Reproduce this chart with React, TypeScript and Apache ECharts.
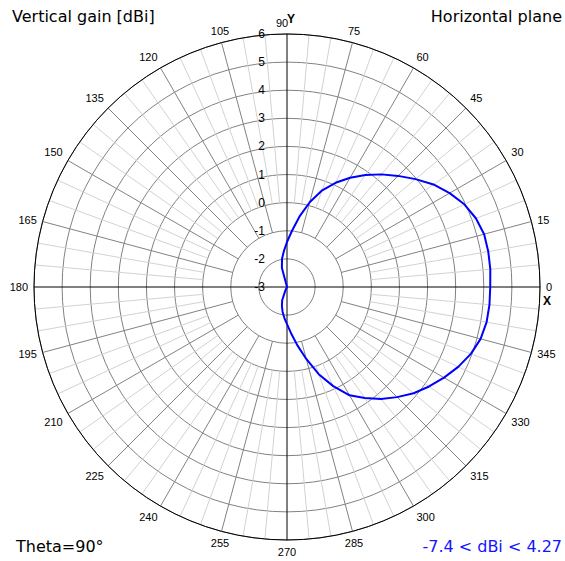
import React, { useEffect, useRef } from "react";
import * as echarts from "echarts";

// Azimuth angles (degrees) and vertical gain (dBi)
const angles = [
  0, 5, 10, 15, 20, 25, 30, 35, 40, 45, 50, 55, 60, 65, 70, 75, 80, 85, 90,
  95, 100, 105, 110, 120, 135, 150, 165, 180, 195, 210, 225, 240, 245, 250,
  255, 260, 265, 270, 275, 280, 285, 290, 295, 300, 305, 310, 315, 320, 325,
  330, 335, 340, 345, 350, 355, 360,
];
const gains = [
  4.23, 4.26, 4.27, 4.26, 4.15, 3.96, 3.68, 3.36, 2.97, 2.59, 2.23, 1.86,
  1.49, 1.09, 0.66, 0.12, -0.46, -1.0, -1.4, -1.72, -1.98, -2.3, -3.4, -4.3,
  -5.6, -6.6, -7.2, -7.4, -7.2, -6.6, -5.6, -3.9, -2.85, -2.5, -2.3, -2.1,
  -1.9, -1.68, -1.35, -0.9, -0.35, 0.3, 0.89, 1.45, 1.82, 2.2, 2.54, 2.88,
  3.17, 3.45, 3.72, 3.96, 4.13, 4.21, 4.23, 4.23,
];
const radiusMin = -3;
const radiusMax = 6;
const angleTicks = [0, 15, 30, 45, 60, 75, 90, 105, 120, 135, 150, 165, 180, 195, 210, 225, 240, 255, 270, 285, 300, 315, 330, 345];

const titleLeft = "Vertical gain [dBi]";
const titleRight = "Horizontal plane";
const footLeft = "Theta=90°";
const footRight = "-7.4 < dBi < 4.27";

const FONT = "'Liberation Sans', Arial, sans-serif";
const TITLE_FONT = "'DejaVu Sans', Verdana, sans-serif";

export default function App() {
  const ref = useRef<HTMLDivElement>(null);
  useEffect(() => {
    if (!ref.current) return;
    const chart = echarts.init(ref.current, null, { renderer: "svg" });
    const center = [287, 287];
    const R = 253;
    const gray = "#828282";
    const light = "#d2d2d2";
    const hiddenRadius = {
      min: radiusMin,
      max: radiusMax,
      interval: 1,
      show: false,
    };
    const data = angles.map((a, i) => [Math.max(gains[i], radiusMin), a]);
    chart.setOption({
      animation: false,
      backgroundColor: "#fff",
      polar: [
        { center, radius: [84, R] },
        { center, radius: [56, R] },
        { center, radius: R },
        { center, radius: R },
      ],
      angleAxis: [
        {
          polarIndex: 0,
          type: "value",
          min: 0,
          max: 360,
          interval: 5,
          startAngle: 0,
          clockwise: false,
          axisLine: { show: false },
          axisTick: { show: false },
          axisLabel: { show: false },
          splitLine: {
            show: true,
            lineStyle: { color: ["transparent", light, light], width: 1 },
          },
        },
        {
          polarIndex: 1,
          type: "value",
          min: 0,
          max: 360,
          interval: 15,
          startAngle: 0,
          clockwise: false,
          axisLine: { show: false },
          axisTick: { show: false },
          axisLabel: { show: false },
          splitLine: {
            show: true,
            lineStyle: {
              color: ["transparent", gray, gray, gray, gray, gray],
              width: 1,
            },
          },
        },
        {
          polarIndex: 2,
          type: "value",
          min: 0,
          max: 360,
          interval: 15,
          startAngle: 0,
          clockwise: false,
          axisLine: { show: true, lineStyle: { color: "#000", width: 1 } },
          axisTick: { show: false },
          axisLabel: {
            show: true,
            margin: 6,
            color: "#000",
            fontSize: 11,
            fontFamily: FONT,
            formatter: (v: number) =>
              v === 90
                ? "{n|90}"
                : angleTicks.indexOf(v) >= 0
                ? String(v)
                : "",
            rich: {
              n: {
                fontSize: 11,
                fontFamily: FONT,
                color: "#000",
                padding: [0, 10, 0, 0],
              },
            },
          },
          splitLine: {
            show: true,
            lineStyle: {
              color: ["#000", "transparent", "transparent", "transparent", "transparent", "transparent"],
              width: 1,
            },
          },
        },
        {
          polarIndex: 3,
          type: "value",
          min: 0,
          max: 360,
          startAngle: 90,
          clockwise: false,
          show: false,
        },
      ],
      radiusAxis: [
        { polarIndex: 0, ...hiddenRadius },
        { polarIndex: 1, ...hiddenRadius },
        {
          polarIndex: 2,
          min: radiusMin,
          max: radiusMax,
          interval: 1,
          axisLine: { show: false },
          axisTick: { show: false },
          axisLabel: { show: false },
          splitLine: {
            show: true,
            lineStyle: { color: gray, width: 1 },
          },
        },
        {
          polarIndex: 3,
          min: radiusMin,
          max: radiusMax,
          interval: 1,
          axisLine: { show: false },
          axisTick: { show: false },
          splitLine: { show: false },
          axisLabel: {
            show: true,
            margin: 22,
            color: "#000",
            fontSize: 12,
            fontFamily: FONT,
          },
        },
      ],
      series: [
        {
          type: "line",
          coordinateSystem: "polar",
          polarIndex: 2,
          data,
          symbol: "none",
          smooth: false,
          lineStyle: { color: "#0000ff", width: 2 },
          z: 10,
        },
      ],
      graphic: [
        {
          type: "text",
          left: 12,
          top: 8,
          style: { text: titleLeft, font: `16px ${TITLE_FONT}`, fill: "#000" },
        },
        {
          type: "text",
          right: 3,
          top: 8,
          style: { text: titleRight, font: `16px ${TITLE_FONT}`, fill: "#000" },
        },
        {
          type: "text",
          left: 16,
          top: 538,
          style: { text: footLeft, font: `16px ${TITLE_FONT}`, fill: "#000" },
        },
        {
          type: "text",
          right: 3,
          top: 538,
          style: { text: footRight, font: `16px ${TITLE_FONT}`, fill: "#1414ff" },
        },
        {
          type: "text",
          left: 287,
          top: 13,
          style: { text: "Y", font: `bold 12px ${FONT}`, fill: "#000" },
        },
        {
          type: "text",
          left: 543,
          top: 295,
          style: { text: "X", font: `bold 12px ${FONT}`, fill: "#000" },
        },
      ],
    });
    return () => chart.dispose();
  }, []);
  return (
    <div
      ref={ref}
      style={{ position: "absolute", left: 0, top: 0, width: 565, height: 561 }}
    />
  );
}
